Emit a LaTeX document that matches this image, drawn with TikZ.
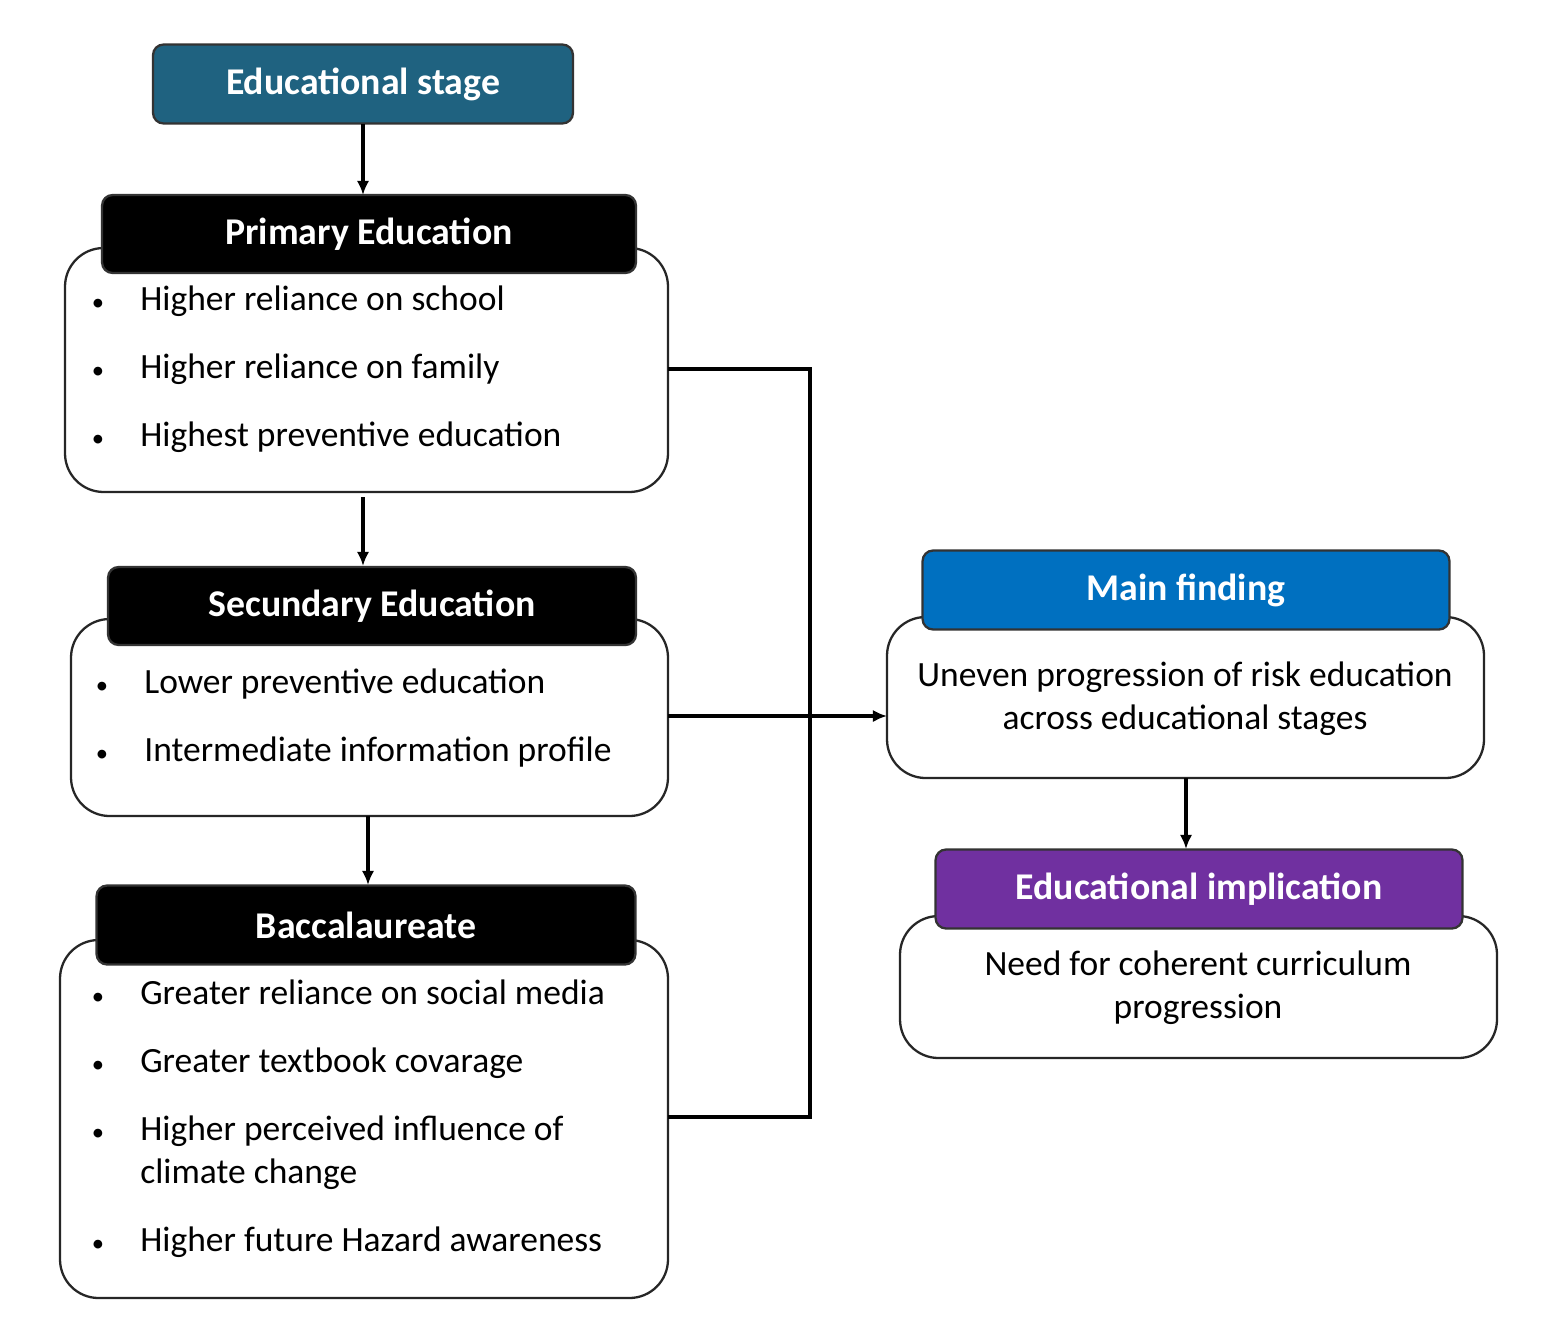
\documentclass[tikz,border=0pt]{standalone}
\usepackage{fontspec}
\setmainfont{Carlito}
\usetikzlibrary{arrows.meta}
\begin{document}
\begin{tikzpicture}[x=0.02cm,y=-0.02cm,
% common options for the headers:
head/.style = {draw=black!80, line width=1.3pt, rounded corners=6pt, text=white,
            font=\fontsize{21.5}{26}\selectfont\bfseries, inner sep=0},
% common options for the bodies:
body/.style = {draw=black!85, line width=1.3pt, rounded corners=22pt, fill=white},
item/.style = {anchor=base west, font=\fontsize{20.2}{24}\selectfont, inner sep=0},
dot/.style = {anchor=base, font=\fontsize{14}{16}\selectfont, inner sep=0},
txt/.style = {align=center, font=\fontsize{20.2}{24.5}\selectfont, inner sep=0},
arr/.style = {-{Latex[length=8pt,width=7pt]}, line width=2.2pt}]
\useasboundingbox (0,0) rectangle (1564,1333);
% left column
\draw[body] (65,248) rectangle (668,492);
\draw[body] (71,619) rectangle (668,816);
\draw[body] (60,940) rectangle (668,1298);
\node[head, fill={rgb,255:red,31;green,98;blue,128}, minimum width=8.4cm, minimum height=1.58cm] (stage) at (363,84) {Educational stage};
\node[head, fill=black, minimum width=10.68cm, minimum height=1.56cm] (prim) at (369,234) {Primary Education};
\node[head, fill=black, minimum width=10.56cm, minimum height=1.56cm] (sec) at (372,606) {Secundary Education};
\node[head, fill=black, minimum width=10.78cm, minimum height=1.58cm] (bac) at (366,925) {Baccalaureate};
\coordinate (stageS) at (363,124);
\coordinate (primN) at (363,195);
\coordinate (primS) at (363,497);
\coordinate (secN) at (363,566);
\coordinate (secS) at (368,816);
\coordinate (bacN) at (368,885);
\coordinate (primE) at (668,369);
\coordinate (secE) at (668,716);
\coordinate (bacE) at (668,1117);
\foreach \y/\t in {310/Higher reliance on school, 378/Higher reliance on family, 446/Highest preventive education}
  {\node[dot] at (98,\y) {•}; \node[item] at (140,\y) {\t};}
\foreach \y/\t in {693/Lower preventive education, 761/Intermediate information profile}
  {\node[dot] at (102,\y) {•}; \node[item] at (144,\y) {\t};}
\foreach \y/\t in {1004/Greater reliance on social media, 1072/Greater textbook covarage, 1140/Higher perceived influence of, 1251/Higher future Hazard awareness}
  {\node[dot] at (98,\y) {•}; \node[item] at (140,\y) {\t};}
\node[item] at (140,1183) {climate change};
% right column
\draw[body] (887,617) rectangle (1484,778);
\draw[body] (900,916) rectangle (1497,1058);
\node[head, fill={rgb,255:red,0;green,112;blue,192}, minimum width=10.54cm, minimum height=1.58cm] (main) at (1186,590) {Main finding};
\node[head, fill={rgb,255:red,112;green,48;blue,160}, minimum width=10.54cm, minimum height=1.58cm] (impl) at (1199,889) {Educational implication};
\node[txt] (mainT) at (1185,699) {Uneven progression of risk education\\across educational stages};
\node[txt] (implT) at (1198,988) {Need for coherent curriculum\\progression};
\coordinate (mainW) at (887,716);
\coordinate (mainS) at (1186,778);
\coordinate (implN) at (1186,849);
% connectors
\draw[arr] (stageS) -- (primN);
\draw[arr] (primS) -- (secN);
\draw[arr] (secS) -- (bacN);
\draw[arr] (mainS) -- (implN);
\draw[line width=2.2pt] (primE) -| (810,1117) -- (bacE);
\draw[arr] (secE) -- (mainW);
\end{tikzpicture}
\end{document}
